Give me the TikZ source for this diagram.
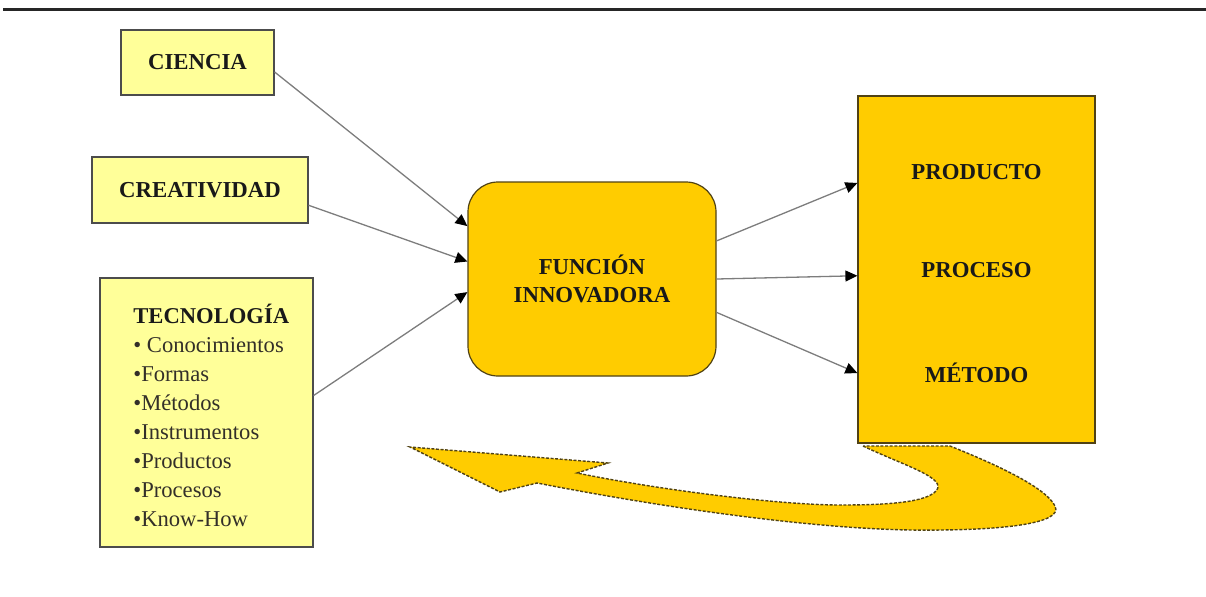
\documentclass[tikz,border=0pt]{standalone}
\usepackage{fontspec}
\setmainfont{Liberation Serif}
\usepackage{tikz}
\usetikzlibrary{arrows.meta,positioning,calc}

\definecolor{amarilloclaro}{RGB}{255,255,153}
\definecolor{oro}{RGB}{255,204,0}
\definecolor{bordeoro}{RGB}{80,66,20}
\definecolor{gristrazo}{RGB}{125,125,125}

\begin{document}
\begin{tikzpicture}[x=0.5pt,y=0.5pt,yscale=-1,
  caja/.style={draw=black!70, line width=0.6pt, fill=amarilloclaro, inner sep=0pt},
  cajaoro/.style={draw=bordeoro, line width=0.6pt, fill=oro, inner sep=0pt},
  rotulo/.style={font=\fontsize{11.4}{14}\selectfont\bfseries, text=black!90, align=center, inner sep=0pt},
  lista/.style={font=\fontsize{11.3}{14.5}\selectfont, text=black!85!olive, align=left, inner sep=0pt},
  flecha/.style={draw=gristrazo, line width=0.65pt, -{Triangle[color=black,fill=black,length=6pt,width=5.5pt]}},
  retorno/.style={fill=oro, draw=bordeoro, line width=0.7pt, dash pattern=on 1.5pt off 0.8pt}]
\useasboundingbox (0,0) rectangle (1206,596);

%Straight Lines: top rule
\draw [line width=1.5pt, black!85] (3,9.5) -- (1206,9.5);

%Shape: Rectangle
\node (ciencia) [caja, minimum width=76.5pt, minimum height=32.5pt] at (197.5,62.5) {};
\node [rotulo] at (ciencia) {CIENCIA};
%Shape: Rectangle
\node (creatividad) [caja, minimum width=108pt, minimum height=33pt] at (200,190) {};
\node [rotulo] at (creatividad) {CREATIVIDAD};
%Shape: Rectangle
\node (tecnologia) [caja, minimum width=106.5pt, minimum height=134.5pt] at (206.5,412.5) {};
% Text Node
\node (teclista) [lista, anchor=west] at (133,415) {\textcolor{black!90}{\bfseries TECNOLOGÍA}\\• Conocimientos\\•Formas\\•Métodos\\•Instrumentos\\•Productos\\•Procesos\\•Know-How};

%Shape: Rounded Rectangle
\node (funcion) [cajaoro, rounded corners=15pt, minimum width=124pt, minimum height=97pt] at (592,279) {};
\node [rotulo] at (funcion) {FUNCIÓN\\INNOVADORA};

%Shape: Rectangle
\node (resultado) [cajaoro, minimum width=118.5pt, minimum height=173.5pt] at (976.5,269.5) {};
% Text Node
\node (producto) [rotulo] at (976.5,172) {PRODUCTO};
\node (proceso) [rotulo] at (976.5,270) {PROCESO};
\node (metodo) [rotulo] at (976.5,373) {MÉTODO};

%Straight Lines: inputs
\draw [flecha] (ciencia.-7) -- (funcion.157);
\draw [flecha] (creatividad.-8) -- (funcion.172.5);
\draw [flecha] (tecnologia.9) -- (funcion.186);
%Straight Lines: outputs
\draw [flecha] (funcion.17.5) -- (resultado.144.5);
\draw [flecha] (funcion.0.5) -- (resultado.183.6);
\draw [flecha] (funcion.-15.3) -- (resultado.221);

%Curve Lines: feedback arrow
\draw [retorno] (863,446) .. controls (905,466) and (948,478) .. (936,491)
  .. controls (926,502) and (890,505) .. (840,505)
  .. controls (780,505) and (660,490) .. (577,473)
  -- (608,463) -- (410,447) -- (500,492) -- (537,483)
  .. controls (650,505) and (800,528) .. (910,530)
  .. controls (1000,531) and (1064,524) .. (1055,506)
  .. controls (1046,488) and (1000,466) .. (950,446) -- cycle;
\draw [line width=0.8pt, bordeoro] (resultado.south west) -- (resultado.south east);

\end{tikzpicture}
\end{document}
